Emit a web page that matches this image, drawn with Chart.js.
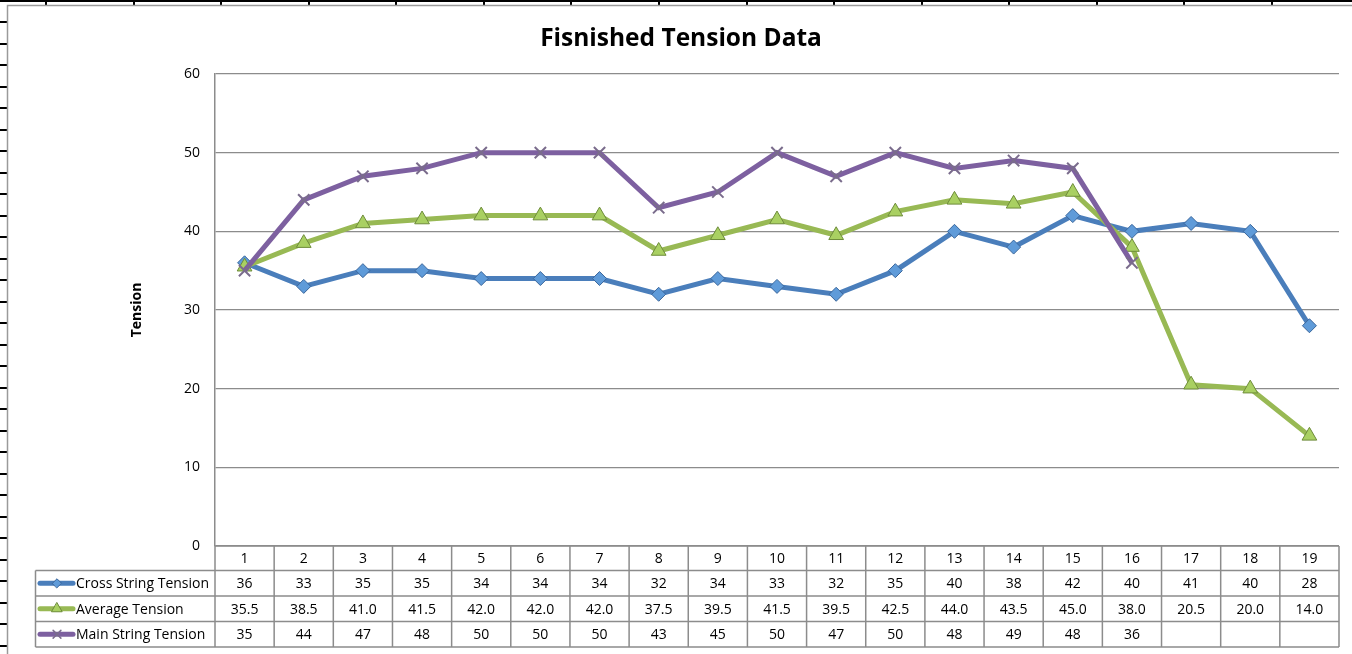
<!DOCTYPE html>
<html>
<head>
<meta charset="utf-8">
<script src="https://cdn.jsdelivr.net/npm/chart.js@4.4.1/dist/chart.umd.min.js"></script>
<style>
  html, body { margin: 0; padding: 0; background: #fff; }
  #wrap { width: 1352px; height: 654px; position: relative; }
</style>
</head>
<body>
<div id="wrap"><canvas id="tension-chart" width="1352" height="654"></canvas></div>
<script>
// data
const categories = ["1", "2", "3", "4", "5", "6", "7", "8", "9", "10", "11", "12", "13", "14", "15", "16", "17", "18", "19"];
const crossString = [36, 33, 35, 35, 34, 34, 34, 32, 34, 33, 32, 35, 40, 38, 42, 40, 41, 40, 28];
const averageTension = [35.5, 38.5, 41.0, 41.5, 42.0, 42.0, 42.0, 37.5, 39.5, 41.5, 39.5, 42.5, 44.0, 43.5, 45.0, 38.0, 20.5, 20.0, 14.0];
const mainString = [35, 44, 47, 48, 50, 50, 50, 43, 45, 50, 47, 50, 48, 49, 48, 36, null, null, null];
const seriesNames = ["Cross String Tension", "Average Tension", "Main String Tension"];
const yTicks = [0, 10, 20, 30, 40, 50, 60];

const FONT = "'Open Sans', 'DejaVu Sans', sans-serif";
const GRID = "#8c8c8c";

const seriesStyle = [
  { line: "#4a7ebb", fill: "#5f9bd9", edge: "#3b679c", point: "rectRot", radius: 7, digits: 0 },
  { line: "#98b954", fill: "#a9d062", edge: "#6e8c3a", point: "triangle", radius: 8.5, digits: 1 },
  { line: "#7d60a0", fill: "#7d60a0", edge: "#7a6c8c", point: "crossRot", radius: 8, digits: 0 },
];
const seriesData = [crossString, averageTension, mainString];

// sheet frame + title + data table
const sheetPlugin = {
  id: "sheet",
  beforeDraw(chart) {
    const ctx = chart.ctx;
    ctx.save();
    ctx.fillStyle = "#fff";
    ctx.fillRect(0, 0, chart.width, chart.height);
    // black ruler lines of the sheet
    ctx.fillStyle = "#000";
    ctx.fillRect(0, 0, chart.width, 2);
    for (let x = 46; x < chart.width; x += 87.57) ctx.fillRect(Math.round(x) - 1, 0, 2, 5);
    for (let y = 22; y < chart.height; y += 21.5) ctx.fillRect(0, Math.round(y) - 1, 7, 2);
    // chart border
    ctx.strokeStyle = "#9a9a9a";
    ctx.lineWidth = 1.5;
    ctx.beginPath();
    ctx.moveTo(7.5, chart.height + 2);
    ctx.lineTo(7.5, 5.5);
    ctx.lineTo(chart.width + 2, 5.5);
    ctx.stroke();
    // title
    ctx.fillStyle = "#000";
    ctx.font = "bold 24.5px " + FONT;
    ctx.textAlign = "center";
    ctx.textBaseline = "alphabetic";
    ctx.fillText("Fisnished Tension Data", 681, 46);
    ctx.restore();
  },
  afterDraw(chart) {
    const ctx = chart.ctx;
    const area = chart.chartArea;
    const xs = chart.scales.x;
    const n = categories.length;
    const colW = (area.right - area.left) / n;
    const rows = [area.bottom, 570.5, 596, 621.5, 647];
    const legendLeft = 35.5;

    ctx.save();
    ctx.strokeStyle = GRID;
    ctx.lineWidth = 1.5;
    ctx.beginPath();
    // horizontal lines
    ctx.moveTo(area.left, rows[0]); ctx.lineTo(area.right, rows[0]);
    for (let r = 1; r < rows.length; r++) {
      ctx.moveTo(legendLeft, rows[r]); ctx.lineTo(area.right, rows[r]);
    }
    // vertical lines
    for (let i = 0; i <= n; i++) {
      const x = area.left + i * colW;
      ctx.moveTo(x, rows[0]); ctx.lineTo(x, rows[4]);
    }
    ctx.moveTo(legendLeft, rows[1]); ctx.lineTo(legendLeft, rows[4]);
    ctx.stroke();

    ctx.fillStyle = "#000";
    ctx.font = "14px " + FONT;
    ctx.textAlign = "center";
    ctx.textBaseline = "middle";
    categories.forEach(function (c, i) {
      ctx.fillText(c, xs.getPixelForValue(i), (rows[0] + rows[1]) / 2 + 1);
    });
    seriesData.forEach(function (arr, s) {
      const cy = (rows[s + 1] + rows[s + 2]) / 2 + 1;
      arr.forEach(function (v, i) {
        if (v === null) return;
        ctx.fillText(v.toFixed(seriesStyle[s].digits), xs.getPixelForValue(i), cy);
      });
    });

    // legend keys
    seriesStyle.forEach(function (st, s) {
      const cy = (rows[s + 1] + rows[s + 2]) / 2;
      ctx.strokeStyle = st.line;
      ctx.lineWidth = 5;
      ctx.lineCap = "round";
      ctx.beginPath();
      ctx.moveTo(40, cy); ctx.lineTo(73, cy);
      ctx.stroke();
      ctx.fillStyle = st.fill;
      ctx.strokeStyle = st.edge;
      ctx.lineWidth = st.point === "crossRot" ? 1.5 : 1;
      Chart.helpers.drawPoint(ctx, {
        pointStyle: st.point,
        radius: st.radius - 2.5,
        borderWidth: ctx.lineWidth,
        rotation: 0,
      }, 57, cy);
      ctx.fillStyle = "#000";
      ctx.font = "14px " + FONT;
      ctx.textAlign = "left";
      ctx.fillText(seriesNames[s], 76, cy + 1);
    });
    ctx.restore();
  },
};

const datasets = seriesData.map(function (arr, s) {
  const st = seriesStyle[s];
  return {
    label: seriesNames[s],
    data: arr,
    borderColor: st.line,
    backgroundColor: st.fill,
    borderWidth: 5,
    tension: 0,
    pointStyle: st.point,
    pointRadius: st.radius,
    pointBackgroundColor: st.fill,
    pointBorderColor: st.edge,
    pointBorderWidth: st.point === "crossRot" ? 2 : 1,
    spanGaps: false,
    order: 3 - s,
  };
});

new Chart(document.getElementById("tension-chart"), {
  type: "line",
  data: { labels: categories, datasets: datasets },
  options: {
    responsive: false,
    animation: false,
    devicePixelRatio: 1,
    layout: { padding: { left: 120, right: 13, top: 74, bottom: 108 } },
    plugins: {
      legend: { display: false },
      tooltip: { enabled: false },
      title: { display: false },
    },
    scales: {
      x: {
        display: false,
        offset: true,
        grid: { display: false },
      },
      y: {
        min: 0,
        max: 60,
        afterFit: function (scale) { scale.width = 95; },
        afterBuildTicks: function (scale) {
          scale.ticks = yTicks.map(function (v) { return { value: v }; });
        },
        border: { display: true, color: GRID, width: 1.5 },
        grid: { color: GRID, lineWidth: 1.2, drawTicks: false },
        ticks: {
          padding: 15,
          color: "#000",
          font: { family: FONT, size: 14 },
        },
        title: {
          display: true,
          text: "Tension",
          color: "#000",
          padding: { top: 9, bottom: 0 },
          font: { family: FONT, size: 14, weight: "bold" },
        },
      },
    },
  },
  plugins: [sheetPlugin],
});
</script>
</body>
</html>
